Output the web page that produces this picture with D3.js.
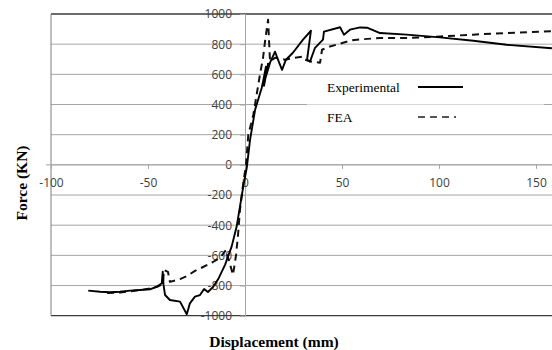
<!DOCTYPE html>
<html>
<head>
<meta charset="utf-8">
<script src="https://cdn.jsdelivr.net/npm/d3@7"></script>
<style>
  body { margin: 0; background: #fff; }
  svg { display: block; }
</style>
</head>
<body>
<div id="chart"></div>
<script>
// Experimental curve (displacement mm, force kN)
const expX = [-80.8, -74.7, -69.6, -64.4, -59.3, -54.1, -49.0, -45.5, -42.9, -42.4, -42.0, -41.2, -38.7, -33.5, -30.0, -28.4, -25.8, -23.2, -21.1, -19.1, -16.3, -13.8, -10.3, -6.9, -4.3, -2.6, -0.9, 0.9, 2.6, 5.2, 8.6, 9.3, 10.8, 9.8, 11.9, 10.3, 12.9, 15.5, 17, 19.1, 21.1, 24.7, 29.9, 34, 33, 32, 33.5, 36.1, 40.2, 40.7, 49, 51, 54.1, 59.3, 62.9, 69.6, 83.3, 100.5, 117.7, 134.9, 158.2];
const expY = [-834, -841, -845, -841, -834, -830, -825, -808, -785, -708, -796, -863, -896, -907, -990, -918, -874, -863, -823, -843, -807, -757, -663, -542, -409, -277, -144, -20, 166, 365, 509, 551, 650, 524, 670, 564, 677, 750, 697, 630, 697, 743, 830, 889, 796, 697, 684, 776, 830, 883, 912, 863, 896, 911, 909, 874, 863, 845, 823, 796, 773];

// FEA curve
const feaX = [-71.1, -64.4, -59.3, -54.1, -49, -44.8, -42.3, -41.8, -39.7, -38.7, -33.5, -29.9, -25.8, -21.6, -16.5, -12.9, -9.8, -6.2, -4.6, -3.6, -2.6, -1, 0.5, 1.7, 4.3, 6, 7.7, 9.3, 10.3, 11.9, 12.9, 15.5, 20.6, 25.8, 29.9, 30.9, 34.5, 38.7, 39.7, 43.8, 49, 54.1, 57.7, 69.6, 83.3, 100.5, 117.5, 134.9, 158.2];
const feaY = [-849, -846, -839, -830, -820, -806, -790, -697, -710, -776, -757, -737, -703, -677, -644, -617, -564, -730, -597, -465, -299, -133, 0, 199, 332, 465, 597, 710, 816, 962, 684, 710, 697, 710, 717, 697, 684, 677, 763, 785, 803, 823, 830, 841, 841, 851, 863, 874, 886];

const xTicks = [-100, -50, 0, 50, 100, 150];
const yTicks = [-1000, -800, -600, -400, -200, 0, 200, 400, 600, 800, 1000];

const seriesNames = ['Experimental', 'FEA'];

const width = 552;
const height = 350;
const plot = {left: 51, right: 552, top: 14, bottom: 315.7};

const svg = d3.select('#chart').append('svg')
  .attr('width', width)
  .attr('height', height);

const x = d3.scaleLinear().domain([-100, 150]).range([plot.left, 536]);
const y = d3.scaleLinear().domain([-1000, 1000]).range([plot.bottom, plot.top]);

// horizontal gridlines
svg.append('g')
  .selectAll('line')
  .data(yTicks)
  .join('line')
  .attr('x1', plot.left)
  .attr('x2', plot.right)
  .attr('y1', d => y(d))
  .attr('y2', d => y(d))
  .attr('stroke', d => (d === 1000 || d === -1000) ? '#3a3a3a' : '#a6a6a6')
  .attr('stroke-width', d => (d === 1000 || d === -1000) ? 1.3 : 1);

// left border
svg.append('line')
  .attr('x1', plot.left).attr('x2', plot.left)
  .attr('y1', plot.top).attr('y2', plot.bottom)
  .attr('stroke', '#7f7f7f');

const fmt = d => String(d); // plain hyphen minus, like the original

// y axis at x = 0
const yAxis = d3.axisLeft(y).tickValues(yTicks).tickSize(5).tickPadding(4).tickFormat(fmt);
const gy = svg.append('g')
  .attr('transform', `translate(${x(0)},0)`)
  .call(yAxis);
gy.select('.domain').attr('stroke', '#a6a6a6');
gy.selectAll('.tick line').attr('stroke', '#a6a6a6');
gy.selectAll('.tick text')
  .attr('font-family', '"Open Sans", sans-serif')
  .attr('font-size', 12)
  .attr('fill', '#404040')
  .attr('x', -13);

// x axis at y = 0
const xAxis = d3.axisBottom(x).tickValues(xTicks).tickSize(4).tickPadding(10).tickFormat(fmt);
const gx = svg.append('g')
  .attr('transform', `translate(0,${y(0)})`)
  .call(xAxis);
gx.select('.domain').remove();
gx.append('line')
  .attr('x1', plot.left - 5).attr('x2', plot.right)
  .attr('stroke', '#a6a6a6');
gx.selectAll('.tick line').attr('stroke', '#a6a6a6');
gx.selectAll('.tick text')
  .attr('font-family', '"Open Sans", sans-serif')
  .attr('font-size', 12)
  .attr('fill', '#404040');

// legend box (softens gridline behind it)
svg.append('rect')
  .attr('x', 307).attr('y', 77)
  .attr('width', 237).attr('height', 55)
  .attr('fill', '#fff')
  .attr('opacity', 0.55);

const line = d3.line()
  .x(d => x(d[0]))
  .y(d => y(d[1]));

const expData = expX.map((v, i) => [v, expY[i]]);
const feaData = feaX.map((v, i) => [v, feaY[i]]);

svg.append('path')
  .datum(feaData)
  .attr('d', line)
  .attr('fill', 'none')
  .attr('stroke', '#111')
  .attr('stroke-width', 2)
  .attr('stroke-dasharray', '7,5')
  .attr('stroke-linejoin', 'round');

svg.append('path')
  .datum(expData)
  .attr('d', line)
  .attr('fill', 'none')
  .attr('stroke', '#000')
  .attr('stroke-width', 1.9)
  .attr('stroke-linejoin', 'round');

// legend
const legend = svg.append('g');
seriesNames.forEach((name, i) => {
  const ly = 87 + i * 30;
  legend.append('text')
    .attr('x', 327)
    .attr('y', ly)
    .attr('dy', '0.35em')
    .attr('font-family', '"Liberation Serif", "Times New Roman", serif')
    .attr('font-size', 13.5)
    .attr('fill', '#000')
    .text(name);
  legend.append('line')
    .attr('x1', 418)
    .attr('x2', i === 0 ? 463 : 456)
    .attr('y1', ly)
    .attr('y2', ly)
    .attr('stroke', i === 0 ? '#000' : '#555')
    .attr('stroke-width', 2)
    .attr('stroke-dasharray', i === 0 ? null : '7,5');
});

// axis titles
svg.append('text')
  .attr('x', 274)
  .attr('y', 347)
  .attr('text-anchor', 'middle')
  .attr('font-family', '"Liberation Serif", "Times New Roman", serif')
  .attr('font-weight', 'bold')
  .attr('font-size', 15.5)
  .text('Displacement (mm)');

svg.append('text')
  .attr('transform', 'translate(22,183) rotate(-90)')
  .attr('text-anchor', 'middle')
  .attr('dy', '0.35em')
  .attr('font-family', '"Liberation Serif", "Times New Roman", serif')
  .attr('font-weight', 'bold')
  .attr('font-size', 15.5)
  .text('Force (KN)');
</script>
</body>
</html>
